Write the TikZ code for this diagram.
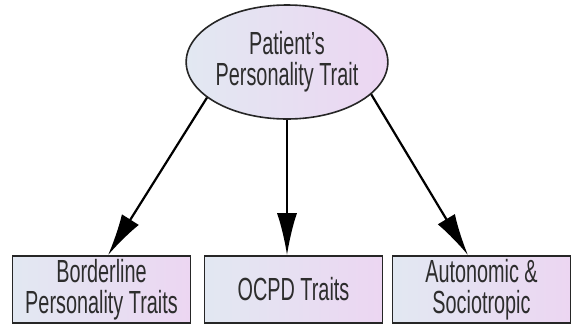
\documentclass[tikz,border=0pt]{standalone}
\usepackage{fontspec}
\setmainfont{Liberation Sans}[FakeStretch=0.62]
\usetikzlibrary{shapes.geometric,arrows.meta}

\definecolor{shadeL}{RGB}{226,232,242}
\definecolor{shadeR}{RGB}{236,214,242}
\definecolor{txtgray}{RGB}{45,45,45}

\tikzset{
  trait/.style={draw=black!85, line width=1.6pt, left color=shadeL, right color=shadeR,
    text=txtgray, align=center, inner sep=0pt,
    font=\fontsize{32}{31}\selectfont},
  traitbox/.style={trait, rectangle, minimum width=178pt, minimum height=67pt},
  traitroot/.style={trait, ellipse, minimum width=181pt, minimum height=114pt},
  link/.style={line width=2.2pt, -{Latex[length=42pt,width=20pt]}}
}

\begin{document}
\begin{tikzpicture}[x=1pt,y=-1pt]

\useasboundingbox (0,0) rectangle (572,325);

% -------------------------------------------------
% Root
% -------------------------------------------------
\node[traitroot] (root) at (287,62) {Patient's\\Personality Trait};

% -------------------------------------------------
% Traits
% -------------------------------------------------
\node[traitbox] (bpd)  at (101.5,289.5) {Borderline\\Personality Traits};
\node[traitbox] (ocpd) at (293.5,289.5) {OCPD Traits};
\node[traitbox] (auto) at (481.5,289.5) {Autonomic \&\\Sociotropic};

% -------------------------------------------------
% Arrows
% -------------------------------------------------
\draw[link] (root.204) -- ([xshift=6.5pt]bpd.north);
\draw[link] (root.south) -- ([xshift=-6.5pt]ocpd.north);
\draw[link] (root.339) -- ([xshift=-13.5pt]auto.north);

\end{tikzpicture}
\end{document}
